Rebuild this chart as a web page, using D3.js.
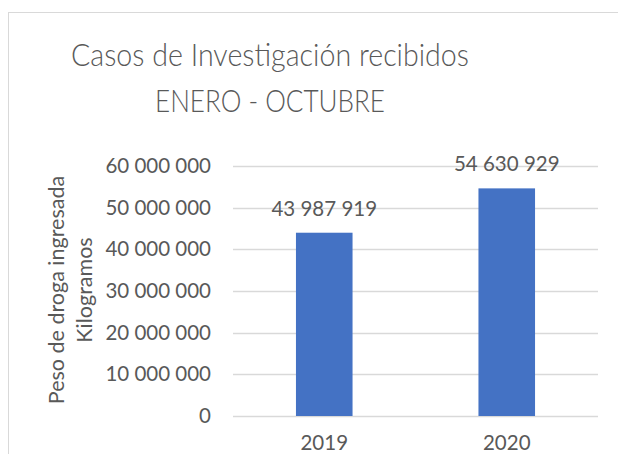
<!DOCTYPE html>
<html lang="es">
<head>
<meta charset="utf-8">
<title>Casos de Investigación recibidos</title>
<script src="https://cdn.jsdelivr.net/npm/d3@7"></script>
<style>
  body { margin: 0; background: #fff; }
  text { font-family: Lato, "Open Sans", sans-serif; fill: #595959; }
</style>
</head>
<body>
<div id="chart"></div>
<script>
// data
let categories = ['2019', '2020']
let values = [43987919, 54630929]
let yTicks = [0, 10000000, 20000000, 30000000, 40000000, 50000000, 60000000]
let titleLines = ['Casos de Investigación recibidos', 'ENERO - OCTUBRE']
let yTitleLines = ['Peso de droga ingresada', 'Kilogramos']

let W = 618, H = 454
let margin = {top: 166, right: 20, bottom: 38, left: 233}
let width = 598 - margin.left
let height = 416 - margin.top

let svg = d3.select('#chart').append('svg')
  .attr('width', W)
  .attr('height', H)

// chart area border
svg.append('rect')
  .attr('x', 8.5).attr('y', 12.5)
  .attr('width', 800).attr('height', 600)
  .attr('fill', 'none')
  .attr('stroke', '#d9d9d9')

let fmt = d3.formatLocale({decimal: ',', thousands: ' ', grouping: [3], currency: ['', '']}).format(',d')

let x = d3.scaleBand()
  .domain(categories)
  .range([0, width])
  .paddingInner(0.69)
  .paddingOuter(0.345)

let y = d3.scaleLinear()
  .domain([0, 60000000])
  .range([height, 0])

let g = svg.append('g')
  .attr('transform', 'translate(' + margin.left + ',' + margin.top + ')')

// gridlines
g.append('g')
  .selectAll('line')
  .data(yTicks)
  .enter()
  .append('line')
  .attr('x1', 0).attr('x2', width)
  .attr('y1', (d) => Math.round(y(d)) + 0.5)
  .attr('y2', (d) => Math.round(y(d)) + 0.5)
  .attr('stroke', '#d9d9d9')
  .attr('stroke-width', 1.5)

// y axis labels
let yAxis = d3.axisLeft(y).tickValues(yTicks).tickFormat(fmt).tickSize(0).tickPadding(22)
g.append('g')
  .call(yAxis)
  .call((a) => a.select('.domain').remove())
  .selectAll('text')
  .attr('font-size', '20.5px')
  .attr('fill', '#595959')
  .style('font-family', 'Lato, "Open Sans", sans-serif')

// x axis labels
let xAxis = d3.axisBottom(x).tickSize(0).tickPadding(19)
g.append('g')
  .attr('transform', 'translate(0,' + height + ')')
  .call(xAxis)
  .call((a) => a.select('.domain').remove())
  .selectAll('text')
  .attr('font-size', '20.5px')
  .attr('fill', '#595959')
  .style('font-family', 'Lato, "Open Sans", sans-serif')

// bars
g.selectAll('rect.bar')
  .data(values)
  .enter()
  .append('rect')
  .attr('class', 'bar')
  .attr('x', (d, i) => x(categories[i]))
  .attr('y', (d) => y(d))
  .attr('width', x.bandwidth())
  .attr('height', (d) => height - y(d))
  .attr('fill', '#4472c4')

// value labels
g.selectAll('text.val')
  .data(values)
  .enter()
  .append('text')
  .attr('class', 'val')
  .attr('x', (d, i) => x(categories[i]) + x.bandwidth() / 2)
  .attr('y', (d) => y(d) - 17)
  .attr('text-anchor', 'middle')
  .attr('font-size', '20.5px')
  .text((d) => fmt(d))

// title (Calibri Light look: light weight, a bit condensed)
let titleWidths = [398, 230]
svg.append('text')
  .attr('text-anchor', 'middle')
  .attr('font-size', '32px')
  .attr('font-weight', 300)
  .selectAll('tspan')
  .data(titleLines)
  .enter()
  .append('tspan')
  .attr('x', 270)
  .attr('y', (d, i) => 66 + i * 46)
  .attr('textLength', (d, i) => titleWidths[i])
  .attr('lengthAdjust', 'spacingAndGlyphs')
  .text((d) => d)

// y axis title
svg.append('text')
  .attr('transform', 'translate(0,290) rotate(-90)')
  .attr('text-anchor', 'middle')
  .attr('font-size', '21.5px')
  .selectAll('tspan')
  .data(yTitleLines)
  .enter()
  .append('tspan')
  .attr('x', 0)
  .attr('y', (d, i) => 64 + i * 28)
  .text((d) => d)
</script>
</body>
</html>
